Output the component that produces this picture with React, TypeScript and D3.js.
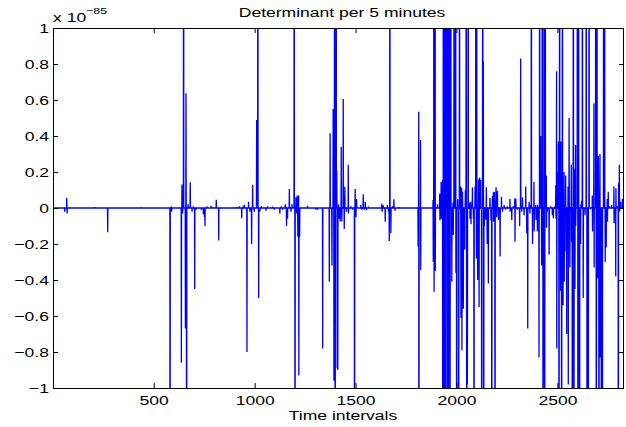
import React, { useEffect, useRef } from 'react';
import * as d3 from 'd3';

// number of 5-minute intervals in the record
const N = 2830;

const xTicks = [500, 1000, 1500, 2000, 2500];
const yTicks = [-1, -0.8, -0.6, -0.4, -0.2, 0, 0.2, 0.4, 0.6, 0.8, 1];

// determinant (x 1e-85) at the intervals where it leaves zero.
// values beyond +-1 are cut by the axes
const spikeIdx = [
  59, 69, 71, 210, 272, 437, 581, 587, 589,
  637, 640, 643, 648, 657, 660, 663, 670, 681, 690, 696, 703, 710, 736, 746, 751, 754, 764, 784, 792, 810, 822,
  911, 924, 936, 944, 949, 962, 970, 977, 985, 990, 998, 1010, 1016, 1020, 1026, 1033, 1056, 1064, 1089, 1097,
  1125, 1132, 1139, 1152, 1158, 1163, 1172, 1180, 1185,
  1196, 1200, 1205, 1208, 1211, 1214, 1218, 1219, 1223, 1262, 1304, 1312, 1337, 1370, 1374, 1383, 1389, 1393,
  1396, 1399, 1404, 1407, 1409, 1412, 1416, 1419, 1424, 1429, 1432, 1439, 1444, 1447, 1455, 1464, 1465, 1477,
  1485, 1495, 1498, 1502, 1505, 1526, 1531, 1538, 1543, 1548, 1554, 1564, 1630, 1632, 1637, 1647, 1658, 1663,
  1667, 1670, 1675, 1683, 1690, 1696, 1716,
  1810, 1813, 1814, 1822, 1823, 1884, 1885, 1888, 1889, 1894, 1895, 1906, 1917, 1918, 1924, 1925, 1931, 1932,
  1935, 1939, 1942, 1945, 1949, 1954, 1957, 1960, 1964, 1968, 1972, 1977, 1983, 1984, 1988, 1993, 1996, 1997,
  2001, 2006, 2011, 2015, 2021, 2022, 2026, 2027, 2030, 2034, 2041, 2044, 2048, 2051, 2054, 2058, 2066, 2067,
  2071, 2072,
  2079, 2084, 2087, 2092, 2096, 2099, 2100, 2105, 2109, 2112, 2115, 2120, 2125, 2130, 2133, 2135, 2138, 2145,
  2148, 2152, 2158, 2166, 2171, 2175, 2178, 2183, 2184, 2188, 2191, 2196, 2199, 2203, 2208, 2216, 2223, 2228,
  2236, 2244, 2252, 2265, 2266, 2274, 2280, 2289, 2290, 2294, 2302, 2313, 2318, 2323, 2327, 2335, 2343, 2348,
  2353, 2360, 2364, 2368, 2371,
  2377, 2384, 2385, 2393, 2394, 2401, 2402, 2409, 2412, 2417, 2422, 2425, 2429, 2434, 2437, 2440, 2445, 2446,
  2450, 2459, 2467, 2475, 2480, 2488, 2492, 2493, 2496, 2497, 2501, 2505, 2508, 2511, 2516, 2517, 2521, 2525,
  2528, 2533, 2534, 2541, 2542, 2546, 2553, 2554, 2558, 2562, 2569, 2570, 2574, 2579, 2582, 2586, 2587, 2590,
  2591, 2599, 2602, 2605, 2610, 2615, 2616, 2620,
  2624, 2628, 2637, 2643, 2647, 2653, 2657, 2665, 2673, 2674, 2681, 2682, 2690, 2693, 2696, 2700, 2703, 2706,
  2711, 2712, 2714, 2718, 2723, 2729, 2734, 2737, 2742, 2747, 2748, 2752, 2759, 2769, 2780, 2781, 2789, 2790,
  2797, 2802, 2803, 2807, 2808, 2813, 2822, 2828, 2829,
];
const spikeVal = [
  -0.02, 0.055, -0.03, 0.005, -0.135, 0.005, -3, 0.01, -0.02,
  -0.86, 0.13, -0.03, 3, -0.67, 0.637, -3, 0.02, 0.143, -0.02, 0.01, -0.45, -0.01, -0.01, -0.035, -0.05, -0.1, 0.01, 0.012, 0.005, 0.046, -0.18,
  0.005, 0.01, -0.057, 0.01, 0.018, -0.8, 0.035, -0.02, -0.2, 0.128, -0.02, 0.489, 3, -0.5, -0.02, 0.01, -0.015, 0.01, 0.008, -0.01,
  -0.03, 0.01, -0.01, 0.02, -0.1, -0.06, 0.105, -0.02, 0.02,
  3, -3, 0.06, -0.03, 0.07, -0.16, 0.07, -0.93, -0.16, 0.012, -0.01, -0.01, -0.78, -0.41, 0.415, -0.32, 0.55, -0.96,
  3, -3, 3, 0.21, -0.89, -0.9, 0.02, -0.06, -0.075, 0.34, -0.075, 0.605, -0.117, 0.118, -0.02, 0.24, -0.03, 0.01,
  -0.01, -3, 0.105, -0.05, 0.05, 0.017, -0.01, 0.076, -0.01, 0.035, -0.012, 0.008, 0.024, -0.02, 0.015, -0.076, 0.017, -0.02,
  -0.183, 3, -0.14, 0.01, 0.048, -0.015, 0.005,
  -0.215, 0.535, -3, 0.378, -0.344, 0.045, -0.3, 3, -0.465, 3, -0.35, 0.02, 0.08, -0.07, 0.146, -0.06, 0.155, -3,
  3, -3, 3, -3, 3, -3, 3, -3, 3, -3, 3, -0.41, 0.03, -0.15, 3, 0.22, 3, -0.36,
  -3, 0.05, -3, 3, 0.12, -0.61, 0.11, -0.79, 0.09, -0.56, -0.23, 0.1, 3, -3, -0.98, 3, 0.03, -0.06,
  0.035, -0.09,
  0.115, -0.06, -3, 0.12, 3, -0.28, 3, -0.4, 0.16, -0.55, 0.17, 0.155, -3, 3, 0.817, -3, -0.1, -0.065,
  0.115, -0.2, -0.42, 0.055, -0.07, -3, 0.068, 0.087, -0.076, 0.09, -3, 0.115, -0.05, 0.096, -0.067, -0.27, 0.063, -0.02,
  0.017, -0.01, 0.01, 0.05, -0.02, -0.067, 0.01, 0.053, -0.187, 0.053, -0.01, -0.1, 0.83, -0.02, 0.059, -0.04, 0.12, -0.14,
  -0.67, 0.035, -0.03, 0.017, 3,
  -0.2, 0.146, -0.13, 0.017, -0.067, -0.13, 0.017, -0.83, 3, 0.4, -0.32, 3, -3, 3, -3, 3, 0.18, -0.11,
  -0.02, -0.26, 0.01, -0.04, -0.057, 0.01, 0.128, -0.06, 0.76, -0.78, 0.2, 0.37, -3, 3, -0.46, 0.37, -3, 3,
  -0.54, 0.2, -0.41, 0.18, -0.24, -0.7, 0.12, -0.98, 0.5, -0.33, 0.24, -0.19, -3, 3, -3, 0.22, -0.45, 0.35,
  -0.1, 3, -3, 3, -3, -0.2, 0.02, 0.04,
  3, -0.5, -0.04, 3, -3, -3, 3, -0.002, 0.07, -0.13, 0.58, -0.33, 3, -3, 3, -0.39, 0.29, -3,
  0.3, -0.83, -0.35, -3, -3, 3, 3, -0.3, -0.22, 0.05, -0.076, 0.09, 0.01, 0.017, 0.12, -0.085, -0.38, 0.11,
  0.01, -3, 0.137, 0.24, -0.02, 0.035, 0.05, 0.035, -0.01,
];

const W = 626;
const H = 427;
const margin = { top: 28, right: 2, bottom: 39, left: 53 };
const font = '"Liberation Sans", Arial, Helvetica, sans-serif';
const stretch = 1.3; // glyphs in the picture are wider than tall

const fmt = (v: number) => {
  const r = Math.round(v * 10) / 10;
  return String(r).replace('-', '\u2212');
};

const App = () => {
  const svgRef = useRef<SVGSVGElement>(null);

  useEffect(() => {
    const svg = d3.select(svgRef.current);
    svg.selectAll('*').remove();

    const innerW = W - margin.left - margin.right;
    const innerH = H - margin.top - margin.bottom;

    const values = new Array(N).fill(0);
    spikeIdx.forEach((t, k) => { values[t - 1] = spikeVal[k]; });
    const data = values.map((v, i) => [i + 1, v] as [number, number]);

    const x = d3.scaleLinear().domain([1, N]).range([0, innerW]);
    const y = d3.scaleLinear().domain([-1, 1]).range([innerH, 0]);

    const g = svg.append('g')
      .attr('transform', `translate(${margin.left},${margin.top})`);

    g.append('clipPath').attr('id', 'plotclip')
      .append('rect').attr('width', innerW).attr('height', innerH);

    const line = d3.line<[number, number]>()
      .x(d => x(d[0]))
      .y(d => y(d[1]));

    g.append('path')
      .datum(data)
      .attr('clip-path', 'url(#plotclip)')
      .attr('fill', 'none')
      .attr('stroke', '#0000ff')
      .attr('stroke-width', 1.3)
      .attr('d', line);

    const styleAxis = (sel: any) => {
      sel.select('.domain').remove();
      sel.selectAll('line').attr('stroke', '#000');
      sel.selectAll('text')
        .attr('font-family', font)
        .attr('font-size', 13.5)
        .attr('fill', '#000');
    };

    g.append('g')
      .attr('transform', `translate(0,${innerH})`)
      .call(d3.axisBottom(x).tickValues(xTicks).tickSize(-5).tickPadding(7).tickFormat(d => String(d)))
      .call(styleAxis)
      .selectAll('text')
      .attr('transform', `scale(${stretch},1)`);

    g.append('g')
      .call(d3.axisTop(x).tickValues(xTicks).tickSize(-5).tickFormat(() => ''))
      .call(styleAxis);

    g.append('g')
      .call(d3.axisLeft(y).tickValues(yTicks).tickSize(-5).tickPadding(4).tickFormat(d => fmt(+d)))
      .call(styleAxis)
      .selectAll('text')
      .attr('x', -4 / stretch)
      .attr('transform', `scale(${stretch},1)`);

    g.append('g')
      .attr('transform', `translate(${innerW},0)`)
      .call(d3.axisRight(y).tickValues(yTicks).tickSize(-5).tickFormat(() => ''))
      .call(styleAxis);

    g.append('rect')
      .attr('x', 0.5).attr('y', 0.5)
      .attr('width', innerW - 1).attr('height', innerH)
      .attr('fill', 'none')
      .attr('stroke', '#000')
      .attr('stroke-width', 1);

    // title, exponent and x label
    svg.append('text')
      .attr('transform', `translate(342,17) scale(${stretch},1)`)
      .attr('text-anchor', 'middle')
      .attr('font-family', font).attr('font-size', 13.5)
      .text('Determinant per 5 minutes');

    const ex = svg.append('text')
      .attr('transform', `translate(53,22) scale(${stretch},1)`)
      .attr('font-family', font).attr('font-size', 13.5);
    ex.append('tspan').text('x 10');
    ex.append('tspan').attr('font-size', 9.5).attr('dy', -8).text('\u221285');

    svg.append('text')
      .attr('transform', `translate(343,420) scale(${stretch},1)`)
      .attr('text-anchor', 'middle')
      .attr('font-family', font).attr('font-size', 13.5)
      .text('Time intervals');
  }, []);

  return (
    <svg
      ref={svgRef}
      width={W}
      height={H}
      style={{ position: 'absolute', left: 0, top: 0, background: '#fff' }}
    />
  );
};

export default App;
